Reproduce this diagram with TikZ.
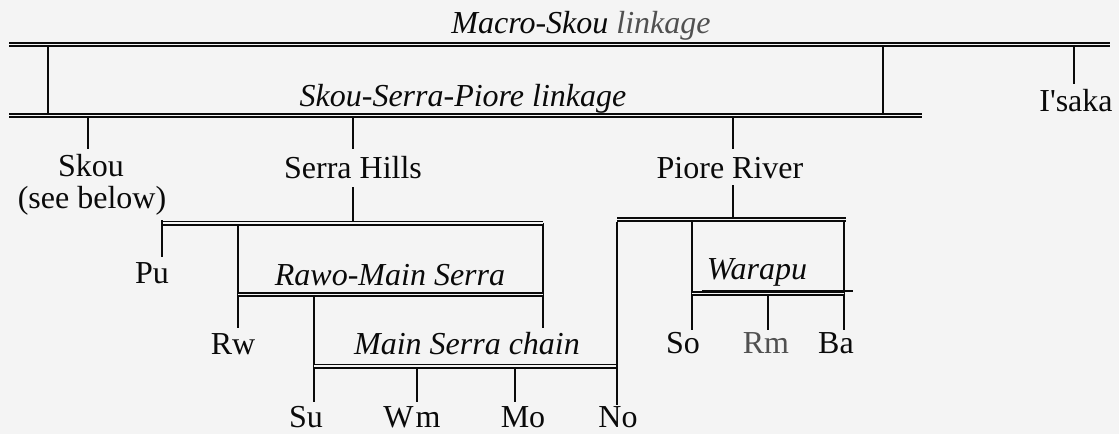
\documentclass[tikz,border=0pt]{standalone}
\usepackage{fontspec}
\setmainfont{Liberation Serif}
\definecolor{bg}{RGB}{244,244,244}
\definecolor{ink}{RGB}{10,10,10}
\definecolor{inkgrey}{RGB}{80,80,80}
\tikzset{
  bar/.style={draw=ink, line width=1.6pt, double=bg, double distance=1.8pt},
  vl/.style={draw=ink, line width=1.6pt},
  lab/.style={font=\fontsize{32}{38}\selectfont, inner sep=0pt, anchor=base, text=ink},
  ital/.style={lab, font=\fontsize{32}{38}\selectfont\itshape},
}
\begin{document}
\begin{tikzpicture}[x=1pt,y=-1pt]
\fill[bg] (0,0) rectangle (1119,434);
\useasboundingbox (0,0) rectangle (1119,434);

% ---------- labels ----------
\node[ital] (macro) at (581,33) {Macro-Skou \textcolor{inkgrey}{linkage}};
\node[ital] (ssp) at (463,106) {Skou-Serra-Piore linkage};
\node[lab] (isaka) at (1076,111) {I\textquotesingle saka};
\node[lab] (skou) at (91,176) {Skou};
\node[lab] (seebelow) at (92,208) {(see below)};
\node[lab] (serra) at (353,178) {Serra Hills};
\node[lab] (piore) at (730,178) {Piore River};
\node[lab] (pu) at (152,283) {Pu};
\node[ital] (rawo) at (390,285) {Rawo-Main Serra};
\node[ital] (warapu) at (757,279) {Warapu};
\node[lab] (rw) at (233,354) {Rw};
\node[ital] (msc) at (467,354) {Main Serra chain};
\node[lab] (so) at (683,353) {So};
\node[lab, text=inkgrey] (rm) at (766,353) {Rm};
\node[lab] (ba) at (836,353) {Ba};
\node[lab] (su) at (306,427) {Su};
\node[lab] (wm) at (412,427) {W\kern2pt m};
\node[lab] (mo) at (523,427) {Mo};
\node[lab] (no) at (618,427) {No};

% ---------- coordinates ----------
\coordinate (b1l) at (9,44.5);
\coordinate (b1r) at (1110,44.5);
\coordinate (b2l) at (9,115.5);
\coordinate (b2r) at (922,115.5);
\coordinate (b3l) at (162,223);
\coordinate (b3r) at (543,223);
\coordinate (b4l) at (238,294.5);
\coordinate (b4r) at (543,294.5);
\coordinate (b5l) at (314,366);
\coordinate (b5r) at (617,366);
\coordinate (b6l) at (617,219.5);
\coordinate (b6r) at (846,219.5);
\coordinate (b7l) at (692,293.5);
\coordinate (b7r) at (844,293.5);
\coordinate (w7l) at (702,291);
\coordinate (w7r) at (853,291);

\coordinate (v48t) at (48,44.5);   \coordinate (v48b) at (48,115.5);
\coordinate (v883t) at (883,44.5); \coordinate (v883b) at (883,115.5);
\coordinate (isT) at (1074,44.5);  \coordinate (isB) at (1074,84);
\coordinate (skT) at (88,115.5);   \coordinate (skB) at (88,149);
\coordinate (seT) at (353,115.5);  \coordinate (seB) at (353,149);
\coordinate (piT) at (733,115.5);  \coordinate (piB) at (733,149);
\coordinate (se2T) at (353,187);   \coordinate (se2B) at (353,223);
\coordinate (pi2T) at (733,185);   \coordinate (pi2B) at (733,219.5);
\coordinate (puB) at (162,257);
\coordinate (rwB) at (238,328);
\coordinate (r543B) at (543,328);
\coordinate (suT) at (314,294.5);  \coordinate (suB) at (314,402);
\coordinate (wmT) at (417,366);    \coordinate (wmB) at (417,402);
\coordinate (moT) at (515,366);    \coordinate (moB) at (515,402);
\coordinate (noB) at (617,405);
\coordinate (soB) at (692,330);
\coordinate (baB) at (844,330);
\coordinate (rmT) at (768,293.5);  \coordinate (rmB) at (768,330);

% ---------- verticals ----------
\draw[vl] (v48t) -- (v48b);
\draw[vl] (v883t) -- (v883b);
\draw[vl] (isT) -- (isB);
\draw[vl] (skT) -- (skB);
\draw[vl] (seT) -- (seB);
\draw[vl] (piT) -- (piB);
\draw[vl] (se2T) -- (se2B);
\draw[vl] (pi2T) -- (pi2B);
\draw[vl] (b3l) -- (puB);
\draw[vl] ([yshift=2pt]b3l -| rwB) -- (rwB);
\draw[vl] (b3r) -- (r543B);
\draw[vl] (suT) -- (suB);
\draw[vl] (wmT) -- (wmB);
\draw[vl] (moT) -- (moB);
\draw[vl] (b7l |- b6l) -- (soB);
\draw[vl] (b7r |- b6l) -- (baB);
\draw[vl] (rmT) -- (rmB);

% ---------- bars ----------
\draw[bar] (b1l) -- (b1r);
\draw[bar] (b2l) -- (b2r);
\draw[bar] (b3l) -- (b3r);
\draw[bar] (b4l) -- (b4r);
\draw[bar] (b5l) -- (b5r);
\draw[bar] (b6l) -- (b6r);
\draw[bar] (b7l) -- (b7r);
\draw[draw=ink, line width=2pt] (w7l) -- (w7r);

% verticals passing over bar ends
\draw[vl] ([yshift=-2.5pt]b6l) -- (noB);
\draw[vl] ([yshift=-2.5pt]b3l) -- ([yshift=3pt]b3l);
\end{tikzpicture}
\end{document}
